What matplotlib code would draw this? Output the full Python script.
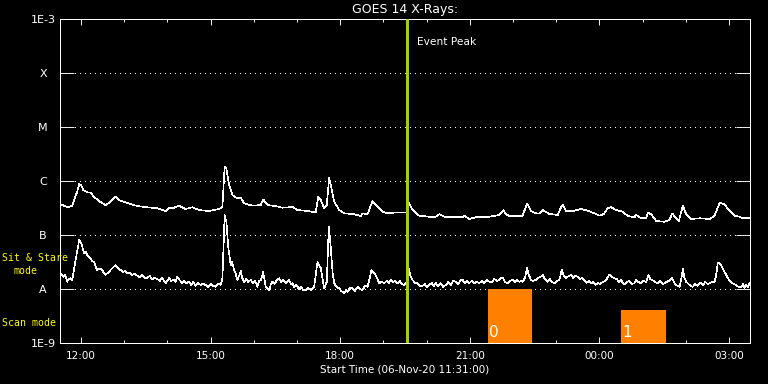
import matplotlib
matplotlib.use('Agg')
import matplotlib.pyplot as plt
import matplotlib.dates as mdates
import matplotlib.transforms as mtransforms
import pandas as pd
import numpy as np

# ---------------- data ----------------
start_time = pd.Timestamp('2020-11-06 11:31:00')
end_minute = 958            # minutes after start (right edge of axis)
event_peak_minute = 482     # 19:33

# GOES long channel (1-8 A), minutes after start / flux W m^-2
long_min = [0, 5.4, 11.0, 17.0, 20.2, 23.9, 26.7, 29.5, 32.2, 37.8,
            42.4, 47.1, 54.1, 63.2, 70.2, 77.1, 81.9, 88.8, 98.0, 107.3,
            121.2, 135.1, 146.6, 151.4, 158.3, 165.3, 174.4, 183.7, 193.1, 207.0,
            220.9, 225.5, 228.6, 231.0, 234.8, 239.3, 246.3, 250.9, 255.6, 267.1,
            278.7, 282.0, 288.0, 299.5, 308.8, 318.1, 322.7, 329.7, 343.6, 355.1,
            358.5, 362.1, 366.8, 370.4, 373.7, 376.0, 380.7, 387.6, 394.6, 408.5,
            417.7, 420.0, 427.0, 433.9, 438.5, 447.8, 454.8, 468.7, 478.0, 481.2,
            484.0, 489.5, 498.8, 512.7, 521.9, 526.6, 533.6, 545.1, 559.0, 561.4,
            568.3, 577.5, 596.1, 610.0, 615.6, 619.2, 623.9, 637.8, 642.4, 648.4,
            653.9, 660.9, 665.6, 670.2, 679.5, 691.1, 694.8, 698.0, 702.6, 714.3,
            723.4, 732.7, 742.1, 749.0, 755.0, 760.5, 765.1, 772.1, 781.4, 788.3,
            797.6, 799.9, 806.8, 813.8, 816.1, 820.7, 827.7, 839.3, 846.3, 849.9,
            855.5, 859.2, 864.8, 869.4, 876.3, 888.0, 901.9, 908.9, 915.8, 922.7,
            929.7, 936.6, 943.6, 948.2, 957.5]
long_flux = [3.75e-7, 3.49e-7, 3.26e-7, 3.49e-7, 4.78e-7, 6.34e-7, 8.80e-7, 8.43e-7, 6.81e-7, 6.18e-7,
             6.07e-7, 5.12e-7, 4.26e-7, 3.59e-7, 4.14e-7, 5.12e-7, 4.45e-7, 4.14e-7, 3.75e-7, 3.44e-7,
             3.26e-7, 3.12e-7, 2.78e-7, 3.20e-7, 3.20e-7, 3.49e-7, 3.03e-7, 3.26e-7, 2.90e-7, 2.78e-7,
             3.03e-7, 3.34e-7, 1.84e-6, 1.72e-6, 8.43e-7, 5.51e-7, 4.78e-7, 4.91e-7, 3.86e-7, 3.49e-7,
             3.59e-7, 4.58e-7, 3.59e-7, 3.44e-7, 3.20e-7, 3.26e-7, 3.34e-7, 2.90e-7, 2.78e-7, 2.63e-7,
             5.12e-7, 4.45e-7, 3.12e-7, 3.59e-7, 1.15e-6, 8.43e-7, 4.14e-7, 2.90e-7, 2.52e-7, 2.42e-7,
             2.25e-7, 2.52e-7, 2.42e-7, 4.26e-7, 3.59e-7, 2.70e-7, 2.52e-7, 2.63e-7, 2.63e-7, 2.63e-7,
             3.96e-7, 2.90e-7, 2.28e-7, 2.18e-7, 2.18e-7, 2.42e-7, 2.18e-7, 2.13e-7, 2.13e-7, 2.28e-7,
             1.98e-7, 2.13e-7, 2.18e-7, 2.35e-7, 2.90e-7, 2.42e-7, 2.25e-7, 2.25e-7, 2.28e-7, 3.86e-7,
             2.78e-7, 2.52e-7, 2.52e-7, 2.90e-7, 2.45e-7, 2.35e-7, 3.12e-7, 3.59e-7, 2.78e-7, 2.82e-7,
             3.03e-7, 2.82e-7, 2.52e-7, 2.28e-7, 2.45e-7, 3.12e-7, 3.26e-7, 2.90e-7, 2.70e-7, 2.25e-7,
             2.13e-7, 2.35e-7, 2.04e-7, 2.04e-7, 2.59e-7, 2.42e-7, 1.82e-7, 1.76e-7, 1.90e-7, 2.52e-7,
             2.04e-7, 1.82e-7, 3.49e-7, 2.42e-7, 1.98e-7, 2.04e-7, 1.98e-7, 2.28e-7, 3.96e-7, 3.70e-7,
             2.78e-7, 2.28e-7, 2.18e-7, 2.04e-7, 2.04e-7]

# GOES short channel (0.5-4 A): minutes after start, flux in units of 1e-8 W m^-2
short_min = [0, 2.5, 5.4, 7.5, 10.0, 12, 14.6, 17, 19.3, 22.9,
             26.7, 29.5, 31, 33.2, 35.5, 37.8, 40, 42.4, 44.5, 47.1,
             49.5, 51.7, 55, 58.7, 61, 63.2, 66.5, 70.2, 73.5, 77.1,
             80.5, 84.1, 87, 90, 93.4, 96.5, 100, 103.5, 107.3, 110.5,
             114, 117.5, 121.2, 124.5, 128, 131.5, 135.1, 138.5, 142, 146.6,
             149, 151.4, 154.5, 158.3, 160.5, 162.9, 166, 169.8, 172.5, 175.5,
             179.2, 182, 185, 188.3, 191.5, 195, 198.5, 202.2, 205.5, 209,
             212.5, 216.1, 219.5, 223.1, 225.5, 228.6, 231.0, 233.8, 237.0, 239,
             241.7, 244, 246.3, 248.5, 250.9, 253, 255.6, 258.5, 261.5, 264.8,
             268, 271, 274.1, 276.5, 278.7, 280.5, 282.0, 283.8, 285.6, 288,
             290.3, 292.5, 294.9, 298, 301, 304.2, 307, 310, 313.4, 316,
             318.1, 320.5, 322.7, 325, 327.5, 329.7, 332, 334.5, 337.5, 341.2,
             344.5, 348.5, 352.9, 357.5, 362.1, 366.8, 370.4, 373.2, 376.0, 378.5,
             380.7, 384, 387.6, 390.5, 394.6, 397, 399.2, 402.5, 406.1, 409.5,
             413.1, 416.5, 420.0, 423.5, 427.0, 429.5, 432.5, 435, 437.1, 440,
             443.2, 446.5, 450.2, 453.5, 456.5, 459.4, 462.5, 465.5, 468.7, 471.5,
             475, 478.0, 481.2, 484.0, 486.5, 489.5, 493, 496.5, 500, 503.4,
             506.5, 509.5, 512.7, 516, 519, 521.9, 525, 528.5, 532, 535.8,
             539, 542.5, 546, 549.7, 553, 556, 559.0, 562, 565, 568.3,
             571.5, 575, 578.5, 582.2, 585.5, 589, 592.5, 596.1, 599.5, 603,
             606.5, 610.0, 612, 614.6, 618, 621.6, 625, 628.5, 631.5, 634.5,
             637.8, 640, 642.4, 645.5, 648.4, 651, 653.9, 657, 660.9, 664,
             667, 670.2, 673.5, 677.1, 680, 683, 686.5, 690, 693.4, 696.6,
             699.5, 702.6, 706, 709.5, 712.5, 715.5, 718.8, 721.5, 725, 728.1,
             731, 734, 737.3, 740.5, 743.5, 746.6, 750, 753.6, 757, 760,
             762.9, 766, 769.8, 773, 776, 779.0, 781.5, 783.7, 787, 790.7,
             794, 797.6, 799.9, 803, 806.8, 810, 813.8, 817.1, 819.5, 822.1,
             826, 830.0, 833.5, 836.5, 839.3, 842, 845.3, 847.5, 849.9, 853,
             855.5, 858, 860.2, 862.5, 864.8, 867, 869.4, 872.5, 875.5, 878.7,
             882, 885, 888, 890.2, 893, 896, 899, 901.9, 905, 908.9,
             911, 913.4, 915.5, 918.0, 921.5, 925.0, 928.5, 931.9, 935, 938.9,
             942, 945.8, 948.5, 950.5, 952.8, 955, 957.5]
short_flux_e8 = [1.95, 1.82, 1.69, 1.82, 1.36, 1.53, 1.58, 1.47, 2.25, 4.26,
                 8.08, 7.02, 6.0, 4.58, 4.9, 4.26, 3.9, 3.70, 3.3, 3.20,
                 2.6, 2.25, 2.4, 2.25, 1.95, 1.82, 2.0, 2.25, 2.5, 2.78,
                 2.4, 2.25, 2.06, 2.15, 1.95, 1.98, 1.82, 1.90, 1.76, 1.67,
                 1.82, 1.60, 1.62, 1.74, 1.53, 1.60, 1.53, 1.41, 1.60, 1.28,
                 1.41, 1.58, 1.41, 1.51, 1.35, 1.69, 1.47, 1.28, 1.41, 1.29,
                 1.36, 1.19, 1.35, 1.14, 1.29, 1.19, 1.24, 1.19, 1.09, 1.24,
                 1.14, 1.10, 1.24, 1.19, 1.58, 23.5, 17.6, 5.67, 2.78, 3.2,
                 2.25, 1.9, 1.47, 1.74, 2.15, 1.6, 1.36, 1.53, 1.35, 1.47,
                 1.29, 1.41, 1.10, 1.41, 1.47, 1.7, 2.09, 1.5, 1.10, 1.04,
                 0.96, 1.19, 1.36, 1.24, 1.47, 1.58, 1.35, 1.47, 1.28, 1.41,
                 1.47, 1.24, 1.28, 1.09, 1.19, 1.10, 1.00, 1.09, 0.96, 0.96,
                 1.04, 0.96, 1.10, 3.20, 2.42, 1.03, 1.36, 14.2, 5.67, 2.0,
                 1.28, 1.09, 1.03, 0.92, 0.83, 0.96, 0.89, 1.04, 1.03, 0.92,
                 1.10, 1.00, 0.96, 1.14, 1.10, 1.5, 2.25, 2.06, 1.95, 1.60,
                 1.28, 1.35, 1.28, 1.41, 1.29, 1.47, 1.35, 1.41, 1.28, 1.41,
                 1.24, 1.19, 1.36, 2.42, 1.74, 1.47, 1.29, 1.28, 1.14, 1.14,
                 1.24, 1.09, 1.19, 1.29, 1.14, 1.28, 1.14, 1.29, 1.09, 1.19,
                 1.35, 1.19, 1.41, 1.36, 1.24, 1.47, 1.47, 1.29, 1.41, 1.28,
                 1.41, 1.29, 1.35, 1.28, 1.41, 1.29, 1.47, 1.36, 1.35, 1.53,
                 1.41, 1.47, 1.6, 1.62, 1.35, 1.28, 1.41, 1.47, 1.35, 1.47,
                 1.36, 1.41, 1.36, 1.6, 2.42, 1.8, 1.47, 1.41, 1.47, 1.6,
                 1.67, 1.82, 1.5, 1.36, 1.53, 1.35, 1.28, 1.41, 1.47, 2.25,
                 1.74, 1.58, 1.74, 1.82, 1.6, 1.74, 1.69, 1.53, 1.6, 1.47,
                 1.29, 1.41, 1.28, 1.35, 1.19, 1.28, 1.24, 1.36, 1.41, 1.6,
                 1.87, 1.67, 1.58, 1.53, 1.35, 1.47, 1.29, 1.22, 1.35, 1.41,
                 1.24, 1.28, 1.47, 1.35, 1.28, 1.41, 1.36, 1.82, 1.53, 1.47,
                 1.35, 1.28, 1.41, 1.24, 1.28, 1.35, 1.41, 1.53, 1.58, 1.29,
                 1.19, 1.14, 1.10, 1.5, 2.35, 1.6, 1.36, 1.24, 1.14, 1.10,
                 1.24, 1.14, 1.29, 1.28, 1.19, 1.35, 1.24, 1.28, 1.35, 1.36,
                 1.8, 3.12, 3.0, 2.78, 2.2, 1.82, 1.5, 1.36, 1.24, 1.19,
                 1.09, 1.10, 1.24, 1.04, 1.19, 1.09, 1.28]

# observing-mode blocks
mode_start_min = [594, 779]
mode_end_min = [656, 841]
mode_level = [1.0e-8, 4.1e-9]
mode_labels = ['0', '1']

ytick_vals = [1e-9, 1e-8, 1e-7, 1e-6, 1e-5, 1e-4, 1e-3]
ytick_labels = ['1E-9', 'A', 'B', 'C', 'M', 'X', '1E-3']

# ---------------- plot ----------------
W, H = 768, 384
fig = plt.figure(figsize=(W / 100, H / 100), dpi=100, facecolor='black')
L, R, T, B = 60, 750, 19, 343
ax = fig.add_axes([L / W, 1 - B / H, (R - L) / W, (B - T) / H], facecolor='black')

def to_time(mins):
    return start_time + pd.to_timedelta(np.asarray(mins, dtype=float), unit='m')

t_long = to_time(long_min)
t_short = to_time(short_min)
short_flux = np.asarray(short_flux_e8) * 1e-8

LW = 0.66

ax.set_yscale('log')
ax.set_ylim(1e-9, 1e-3)
ax.set_xlim(to_time([0])[0], to_time([end_minute])[0])

# mode blocks
for s, e, lvl, lab in zip(mode_start_min, mode_end_min, mode_level, mode_labels):
    ts = to_time([s])[0]
    te = to_time([e])[0]
    ax.fill_between([ts, te], 1e-9, lvl, color='#ff8000', linewidth=0, zorder=2)
    ax.text(ts + pd.Timedelta(minutes=1.5), 1.12e-9, lab, color='white', fontsize=11,
            ha='left', va='bottom', zorder=3)

# y grid (dotted)
ax.grid(axis='y', which='major', color='white', linewidth=0.72, linestyle=(0, (1, 5)))
for gl in ax.get_ygridlines():
    gl.set_antialiased(False)

ax.plot(t_long, long_flux, color='white', linewidth=0.45, zorder=4, antialiased=False)
ax.plot(t_short, short_flux, color='white', linewidth=0.45, zorder=4, antialiased=False)

# event peak
tp = to_time([event_peak_minute])[0]
ax.axvline(tp, color='#a3d000', linewidth=2.0, zorder=5, antialiased=False)
trans = mtransforms.blended_transform_factory(ax.transData, ax.transAxes)
ax.text(tp + pd.Timedelta(minutes=14), 0.929, 'Event Peak', transform=trans, color='white',
        fontsize=7.7, ha='left', va='center')

# axes styling
for sp in ax.spines.values():
    sp.set_color('white')
    sp.set_linewidth(LW)
    sp.set_antialiased(False)

ax.set_yticks(ytick_vals)
ax.set_yticklabels(ytick_labels)
ax.yaxis.set_minor_locator(matplotlib.ticker.NullLocator())
ax.tick_params(axis='y', which='major', direction='in', length=10, width=LW,
               colors='white', left=True, right=True, pad=12.2, labelsize=8)
for lab in ax.get_yticklabels():
    lab.set_horizontalalignment('center')

ax.xaxis.set_major_locator(mdates.HourLocator(byhour=range(0, 24, 3)))
ax.xaxis.set_minor_locator(mdates.HourLocator())
ax.xaxis.set_major_formatter(mdates.DateFormatter('%H:%M'))
ax.tick_params(axis='x', which='major', direction='in', length=4.3, width=LW,
               colors='white', top=True, bottom=True, pad=5.5, labelsize=7.5)
ax.tick_params(axis='x', which='minor', direction='in', length=2.2, width=LW,
               colors='white', top=True, bottom=True)

fig.text((L + R) / 2 / W, 1 - 10 / H, 'GOES 14 X-Rays:', color='white', fontsize=9,
         ha='center', va='center')
fig.text((L + R) / 2 / W, 1 - 369 / H, 'Start Time (06-Nov-20 11:31:00)', color='white',
         fontsize=7.5, ha='center', va='center')

mono = 'DejaVu Sans Mono'
fig.text(2 / W, 1 - 258 / H, 'Sit & Stare', color='#ffff00', fontsize=7.1, family=mono,
         ha='left', va='center')
fig.text(13 / W, 1 - 271 / H, 'mode', color='#ffff00', fontsize=7.1, family=mono,
         ha='left', va='center')
fig.text(2 / W, 1 - 323 / H, 'Scan mode', color='#ffff00', fontsize=7.1, family=mono,
         ha='left', va='center')

fig.savefig('out.png', dpi=100, facecolor='black')
